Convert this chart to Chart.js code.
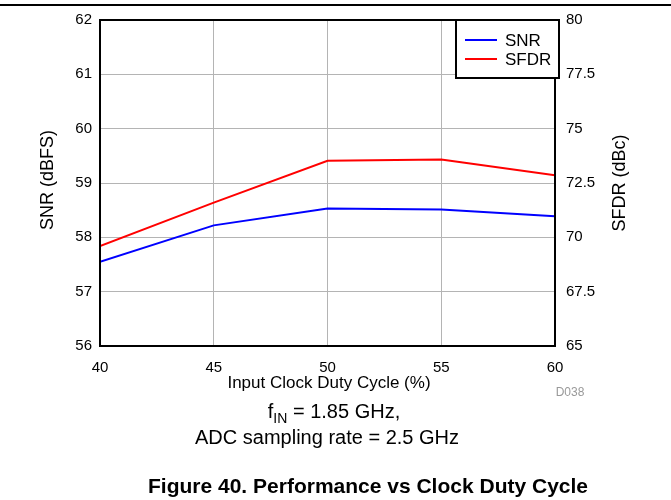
<!DOCTYPE html>
<html>
<head>
<meta charset="utf-8">
<script src="https://cdn.jsdelivr.net/npm/chart.js@4"></script>
<style>
  html, body { margin: 0; padding: 0; background: #fff; }
  #wrap { width: 671px; height: 500px; position: relative; }
</style>
</head>
<body>
<div id="wrap"><canvas id="chart"></canvas></div>
<script>
// values
const dutyCycle = [40, 45, 50, 55, 60];
const snr = [57.55, 58.22, 58.53, 58.51, 58.39];
const sfdr = [69.6, 71.6, 73.52, 73.58, 72.86];
const snrTicks = [56, 57, 58, 59, 60, 61, 62];
const sfdrTicks = [65, 67.5, 70, 72.5, 75, 77.5, 80];

const FONT = 'Arial, "Liberation Sans", sans-serif';

// extra drawing: frame, legend box, captions
const extras = {
    id: 'extras',
    afterDraw(chart) {
        const ctx = chart.ctx;
        const a = chart.chartArea;
        ctx.save();

        // header rule at very top
        ctx.strokeStyle = '#000';
        ctx.lineWidth = 2;
        ctx.beginPath();
        ctx.moveTo(0, 5);
        ctx.lineTo(671, 5);
        ctx.stroke();

        // plot frame
        ctx.strokeRect(a.left, a.top, a.right - a.left, a.bottom - a.top);

        // legend
        const lx = 456, ly = 20, lw = 103, lh = 58;
        ctx.fillStyle = '#fff';
        ctx.fillRect(lx, ly, lw, lh);
        ctx.strokeRect(lx, ly, lw, lh);
        ctx.font = '17px ' + FONT;
        ctx.textBaseline = 'middle';
        ctx.textAlign = 'left';
        chart.data.datasets.forEach((ds, i) => {
            const y = 40 + i * 19;
            ctx.strokeStyle = ds.borderColor;
            ctx.lineWidth = 2;
            ctx.beginPath();
            ctx.moveTo(465, y);
            ctx.lineTo(497, y);
            ctx.stroke();
            ctx.fillStyle = '#000';
            ctx.fillText(ds.label, 505, y + 1);
        });

        // axis titles
        ctx.fillStyle = '#000';
        ctx.font = '17px ' + FONT;
        ctx.textAlign = 'center';
        ctx.textBaseline = 'middle';
        ctx.fillText('Input Clock Duty Cycle (%)', 329, 383);

        ctx.font = '18px ' + FONT;
        ctx.save();
        ctx.translate(48, 180);
        ctx.rotate(-Math.PI / 2);
        ctx.fillText('SNR (dBFS)', 0, 0);
        ctx.restore();

        ctx.save();
        ctx.translate(620, 183);
        ctx.rotate(-Math.PI / 2);
        ctx.fillText('SFDR (dBc)', 0, 0);
        ctx.restore();

        // graph id
        ctx.fillStyle = '#999';
        ctx.font = '12px ' + FONT;
        ctx.fillText('D038', 570, 393);

        // conditions
        ctx.fillStyle = '#000';
        ctx.font = '20px ' + FONT;
        ctx.textAlign = 'left';
        const t1 = 'f', sub = 'IN', t2 = ' = 1.85 GHz,';
        const w1 = ctx.measureText(t1).width;
        const w2 = ctx.measureText(t2).width;
        ctx.font = '14px ' + FONT;
        const ws = ctx.measureText(sub).width;
        let x = 334 - (w1 + ws + w2) / 2;
        ctx.font = '20px ' + FONT;
        ctx.fillText(t1, x, 412);
        ctx.font = '14px ' + FONT;
        ctx.fillText(sub, x + w1, 419);
        ctx.font = '20px ' + FONT;
        ctx.fillText(t2, x + w1 + ws, 412);
        ctx.textAlign = 'center';
        ctx.fillText('ADC sampling rate = 2.5 GHz', 327, 438);

        ctx.font = 'bold 21px ' + FONT;
        ctx.fillText('Figure 40. Performance vs Clock Duty Cycle', 368, 487);

        ctx.restore();
    }
};

new Chart(document.getElementById('chart'), {
    type: 'line',
    data: {
        datasets: [{
            label: 'SNR',
            data: dutyCycle.map((d, i) => ({ x: d, y: snr[i] })),
            borderColor: '#0000ff',
            borderWidth: 2,
            pointRadius: 0,
            tension: 0,
            yAxisID: 'y'
        }, {
            label: 'SFDR',
            data: dutyCycle.map((d, i) => ({ x: d, y: sfdr[i] })),
            borderColor: '#ff0000',
            borderWidth: 2,
            pointRadius: 0,
            tension: 0,
            yAxisID: 'y2'
        }]
    },
    options: {
        responsive: true,
        maintainAspectRatio: false,
        animation: false,
        layout: { padding: { top: 19, left: 0, right: 0, bottom: 0 } },
        plugins: {
            legend: { display: false },
            tooltip: { enabled: false }
        },
        scales: {
            x: {
                type: 'linear',
                min: 40,
                max: 60,
                afterBuildTicks: s => { s.ticks = dutyCycle.map(v => ({ value: v })); },
                afterFit: s => { s.height = 154; },
                grid: { color: '#b4b4b4', lineWidth: 1, drawTicks: false },
                border: { display: false },
                ticks: { color: '#000', font: { size: 15, family: FONT }, padding: 13, maxRotation: 0 }
            },
            y: {
                position: 'left',
                min: 56,
                max: 62,
                afterBuildTicks: s => { s.ticks = snrTicks.map(v => ({ value: v })); },
                afterFit: s => { s.width = 100; },
                grid: { color: '#b4b4b4', lineWidth: 1, drawTicks: false },
                border: { display: false },
                ticks: { color: '#000', font: { size: 15, family: FONT }, padding: 8 }
            },
            y2: {
                position: 'right',
                min: 65,
                max: 80,
                afterBuildTicks: s => { s.ticks = sfdrTicks.map(v => ({ value: v })); },
                afterFit: s => { s.width = 116; },
                grid: { drawOnChartArea: false, drawTicks: false },
                border: { display: false },
                ticks: { color: '#000', font: { size: 15, family: FONT }, padding: 11 }
            }
        }
    },
    plugins: [extras]
});
</script>
</body>
</html>
